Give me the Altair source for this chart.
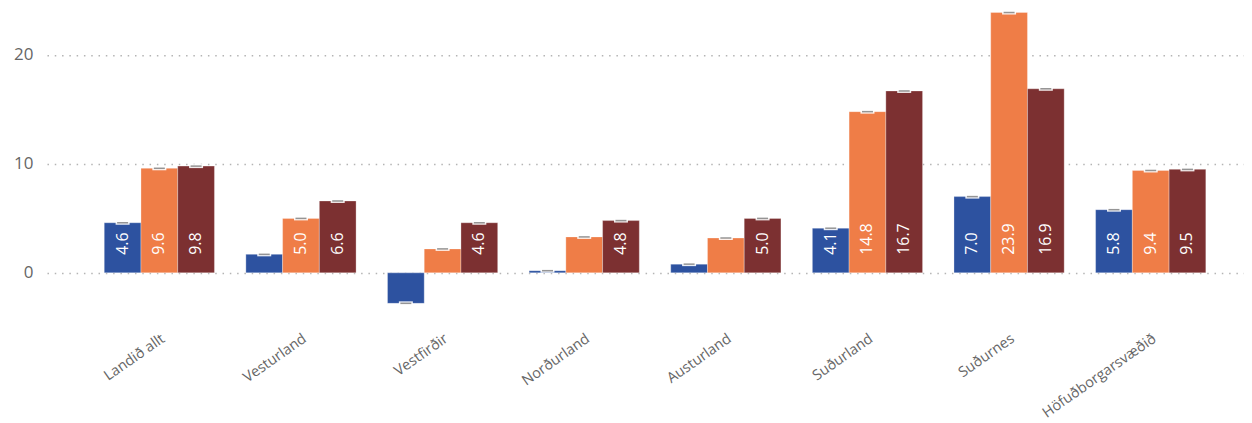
import altair as alt
import pandas as pd

regions = ["Landið allt", "Vesturland", "Vestfirðir", "Norðurland", "Austurland",
           "Suðurland", "Suðurnes", "Höfuðborgarsvæðið"]
series = ["Röð 1", "Röð 2", "Röð 3"]
s1 = [4.6, 1.7, -2.8, 0.2, 0.8, 4.1, 7.0, 5.8]
s2 = [9.6, 5.0, 2.2, 3.3, 3.2, 14.8, 23.9, 9.4]
s3 = [9.8, 6.6, 4.6, 4.8, 5.0, 16.7, 16.9, 9.5]
colors = ["#2D52A0", "#EF7D47", "#7C3031"]
y_ticks = [0, 10, 20]

rows = []
for name, vals in zip(series, [s1, s2, s3]):
    for r, v in zip(regions, vals):
        rows.append({"region": r, "series": name, "value": v})
df = pd.DataFrame(rows)

FONT = "Open Sans"

x = alt.X("region:N", sort=regions,
          scale=alt.Scale(paddingInner=0.2218, paddingOuter=0.337, align=0.6),
          axis=alt.Axis(title=None, labelAngle=-35, labelFontSize=14.5, labelColor="#666666",
                        labelFont=FONT, ticks=False, domain=False, labelPadding=15))
xo = alt.XOffset("series:N", sort=series, scale=alt.Scale(paddingInner=0, paddingOuter=0))
y = alt.Y("value:Q",
          scale=alt.Scale(domain=[-4, 24.3], nice=False, zero=False),
          axis=alt.Axis(values=y_ticks, title=None, grid=True, gridDash=[1.5, 5.8],
                        gridColor="#b4b4b4", gridWidth=1.5, domain=False, ticks=False,
                        labelPadding=14, labelFontSize=17, labelColor="#666666", labelFont=FONT))
color = alt.Color("series:N", sort=series, scale=alt.Scale(domain=series, range=colors), legend=None)

base = alt.Chart(df)

bars = base.mark_bar(stroke="white", strokeWidth=0.6, strokeOpacity=0.5).encode(
    x=x, xOffset=xo, y=y, color=color)

cap_bg = base.mark_tick(color="white", thickness=4, size=14, opacity=0.9).encode(
    x=x, xOffset=xo, y=y)
cap = base.mark_tick(color="#6a6a6a", thickness=1.5, size=11).encode(
    x=x, xOffset=xo, y=y)

labels = base.transform_filter("datum.value >= 4").transform_calculate(
    base0="0").mark_text(angle=270, align="left", baseline="middle", dx=18,
                         color="white", fontSize=16, font=FONT).encode(
    x=x, xOffset=xo, y=alt.Y("base0:Q"),
    text=alt.Text("value:Q", format=".1f"))

chart = alt.layer(bars, cap_bg, cap, labels).properties(
    width=1198, height=308.5,
    padding={"left": 5, "top": 0, "right": 0, "bottom": 0}
).configure(font=FONT).configure_view(strokeWidth=0, stroke="transparent")

chart.save("out.html", embed_options={"renderer": "svg", "actions": False})
